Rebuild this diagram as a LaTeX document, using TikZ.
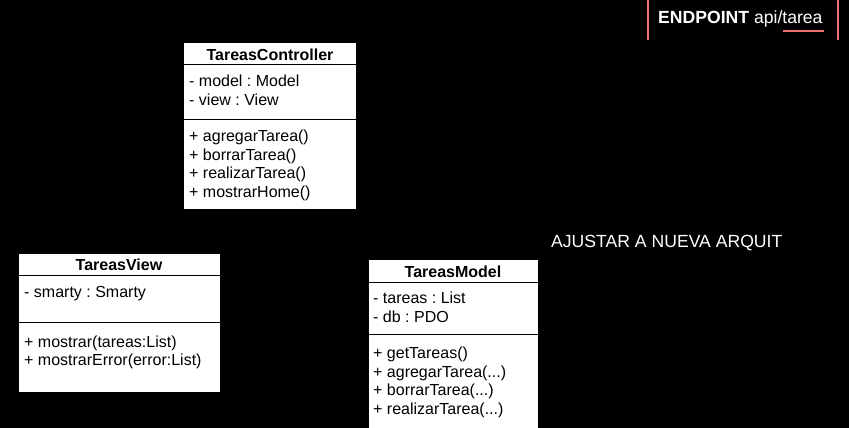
\documentclass[tikz,border=0pt]{standalone}
\usepackage{fontspec}
\setmainfont{Liberation Sans}
\frenchspacing
\begin{document}
\begin{tikzpicture}[x=1pt,y=-1pt,
  box/.style={draw=black,fill=white,line width=1pt},
  sep/.style={draw=black,line width=1pt},
  txt/.style={anchor=base west,inner sep=0pt,font=\fontsize{16}{18}\selectfont,text=black},
  ttl/.style={anchor=base,inner sep=0pt,font=\fontsize{16}{18}\selectfont\bfseries,text=black},
  big/.style={anchor=base west,inner sep=0pt,font=\fontsize{17.6}{20}\selectfont,text=white},
  redline/.style={draw={rgb,255:red,240;green,110;blue,110},line width=2pt}]
\fill[black] (0,0) rectangle (849,428);
\useasboundingbox (0,0) rectangle (849,428);
% TareasController
\draw[box] (183,43) rectangle (356,209);
\draw[sep] (183,65) -- (356,65);
\draw[sep] (183,119) -- (356,119);
\node[ttl] (ct) at (270,60) {TareasController};
\node[txt] (c1) at (189,87) {- model : Model};
\node[txt] (c2) at (189,106) {- view : View};
\node[txt] (c3) at (189,141) {+ agregarTarea()};
\node[txt] (c4) at (189,160) {+ borrarTarea()};
\node[txt] (c5) at (189,178) {+ realizarTarea()};
\node[txt] (c6) at (189,197) {+ mostrarHome()};
% TareasView
\draw[box] (18,253) rectangle (220,392);
\draw[sep] (18,275) -- (220,275);
\draw[sep] (18,322) -- (220,322);
\node[ttl] (vt) at (119,270) {TareasView};
\node[txt] (v1) at (24,297) {- smarty : Smarty};
\node[txt] (v2) at (24,347) {+ mostrar(tareas:List)};
\node[txt] (v3) at (24,365) {+ mostrarError(error:List)};
% TareasModel
\draw[box] (368,259) rectangle (538,440);
\draw[sep] (368,282) -- (538,282);
\draw[sep] (368,334) -- (538,334);
\node[ttl] (mt) at (453,277) {TareasModel};
\node[txt] (m1) at (373,303) {- tareas : List};
\node[txt] (m2) at (373,322) {- db : PDO};
\node[txt] (m3) at (373,358) {+ getTareas()};
\node[txt] (m4) at (373,377) {+ agregarTarea(...)};
\node[txt] (m5) at (373,395) {+ borrarTarea(...)};
\node[txt] (m6) at (373,414) {+ realizarTarea(...)};
% Endpoint
\draw[redline] (648,0) -- (648,40);
\draw[redline] (838,0) -- (838,40);
\node[big] (ep) at (658,24) {\textbf{ENDPOINT} api/tarea};
\draw[redline] (783,31) -- (824,31);
\node[big] (aj) at (551,247) {AJUSTAR A NUEVA ARQUIT};
\end{tikzpicture}
\end{document}
